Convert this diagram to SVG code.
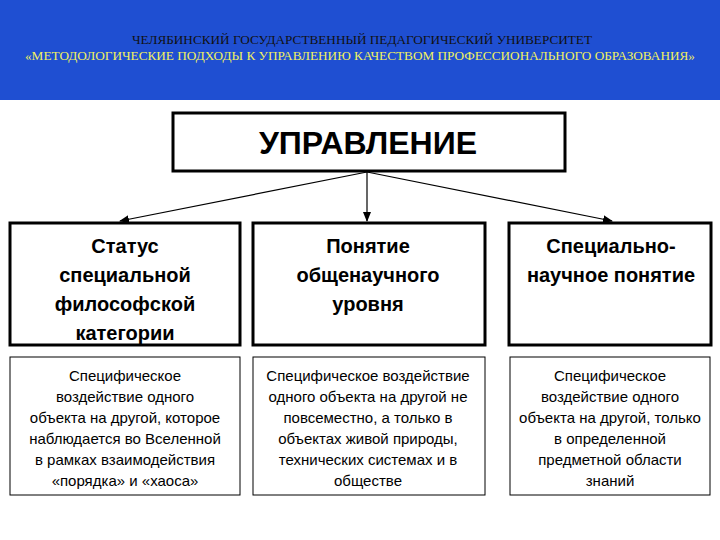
<svg xmlns="http://www.w3.org/2000/svg" width="720" height="540" viewBox="0 0 720 540">
<style>
.h{font-family:"Liberation Serif",serif;font-size:12.5px;text-anchor:middle}
.b{font-family:"Liberation Sans",Arial,sans-serif;font-weight:bold;font-size:20px;text-anchor:middle;fill:#000}
.s{font-family:"Liberation Sans",Arial,sans-serif;font-size:15px;text-anchor:middle;fill:#000}
.tk{fill:#fff;stroke:#000;stroke-width:3}
.tn{fill:#fff;stroke:#000;stroke-width:1}
</style>
<defs><marker id="a" markerWidth="10" markerHeight="8" refX="9" refY="4" orient="auto" markerUnits="userSpaceOnUse"><path d="M0,0L10,4L0,8z" fill="#000"/></marker></defs>
<rect width="720" height="540" fill="#fff"/>
<g id="header">
<rect width="720" height="100" fill="#1f4fd2"/>
<text class="h" x="362" y="44" fill="#111" textLength="460" lengthAdjust="spacingAndGlyphs">ЧЕЛЯБИНСКИЙ ГОСУДАРСТВЕННЫЙ ПЕДАГОГИЧЕСКИЙ УНИВЕРСИТЕТ</text>
<text class="h" x="360" y="60" fill="#f0f060" textLength="670" lengthAdjust="spacingAndGlyphs">«МЕТОДОЛОГИЧЕСКИЕ ПОДХОДЫ К УПРАВЛЕНИЮ КАЧЕСТВОМ ПРОФЕССИОНАЛЬНОГО ОБРАЗОВАНИЯ»</text>
</g>
<g id="connectors" stroke="#000" stroke-width="1.2">
<line x1="367" y1="172" x2="120" y2="221" marker-end="url(#a)"/>
<line x1="367" y1="172" x2="367" y2="221" marker-end="url(#a)"/>
<line x1="367" y1="172" x2="612" y2="221" marker-end="url(#a)"/>
</g>
<g id="top"><rect class="tk" x="173" y="113" width="392" height="58"/>
<text class="b" x="368" y="154" style="font-size:32px">УПРАВЛЕНИЕ</text></g>
<g id="n1"><rect class="tk" x="10" y="223" width="230" height="122"/>
<text class="b" x="125" y="253">Статус</text><text class="b" x="125" y="282">специальной</text><text class="b" x="125" y="311">философской</text><text class="b" x="125" y="340">категории</text></g>
<g id="n2"><rect class="tk" x="253" y="223" width="232" height="122"/>
<text class="b" x="368" y="253">Понятие</text><text class="b" x="368" y="282">общенаучного</text><text class="b" x="368" y="311">уровня</text></g>
<g id="n3"><rect class="tk" x="509" y="223" width="202" height="122"/>
<text class="b" x="611" y="253">Специально-</text><text class="b" x="611" y="282">научное понятие</text></g>
<g id="d1"><rect class="tn" x="10" y="357" width="230" height="138"/>
<text class="s" x="125" y="381">Специфическое</text><text class="s" x="125" y="402">воздействие одного</text><text class="s" x="125" y="423">объекта на другой, которое</text><text class="s" x="125" y="444">наблюдается во Вселенной</text><text class="s" x="125" y="465">в рамках взаимодействия</text><text class="s" x="125" y="486">«порядка» и «хаоса»</text></g>
<g id="d2"><rect class="tn" x="253" y="357" width="232" height="138"/>
<text class="s" x="368" y="381">Специфическое воздействие</text><text class="s" x="368" y="402">одного объекта на другой не</text><text class="s" x="368" y="423">повсеместно, а только в</text><text class="s" x="368" y="444">объектах живой природы,</text><text class="s" x="368" y="465">технических системах и в</text><text class="s" x="368" y="486">обществе</text></g>
<g id="d3"><rect class="tn" x="510" y="357" width="200" height="138"/>
<text class="s" x="610" y="381">Специфическое</text><text class="s" x="610" y="402">воздействие одного</text><text class="s" x="610" y="423">объекта на другой, только</text><text class="s" x="610" y="444">в определенной</text><text class="s" x="610" y="465">предметной области</text><text class="s" x="610" y="486">знаний</text></g>
</svg>
